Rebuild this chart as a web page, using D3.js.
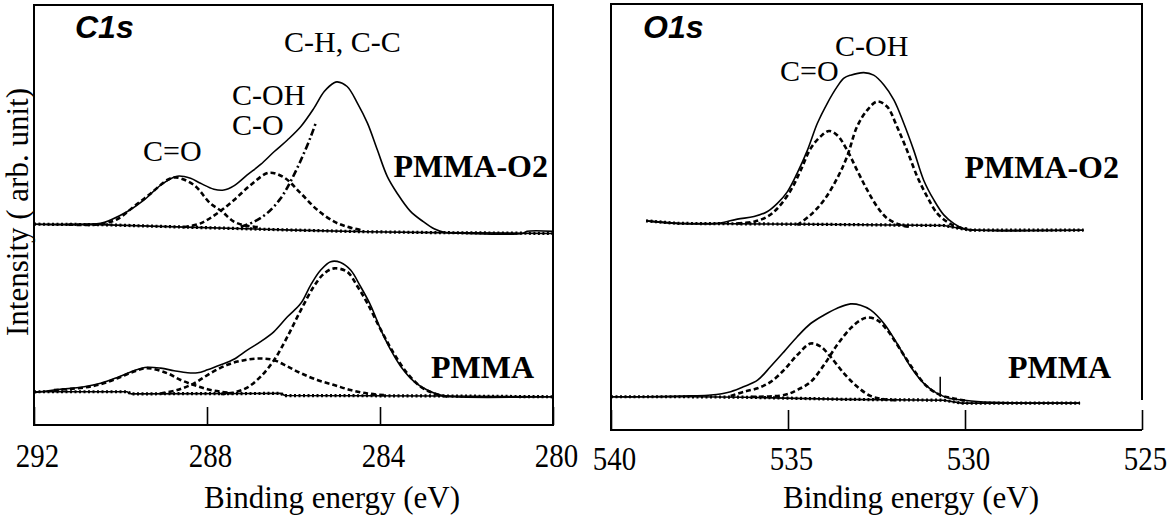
<!DOCTYPE html>
<html>
<head>
<meta charset="utf-8">
<script src="https://cdn.jsdelivr.net/npm/d3@7"></script>
<style>
  body { margin: 0; background: #fff; }
  svg { display: block; }
</style>
</head>
<body>
<svg id="chart" width="1168" height="516"></svg>
<script>
// ---- C1s, PMMA-O2 (offset upward) : [binding energy eV, intensity arb.]
var c1sO2Envelope = [[292.00,47.7],[291.23,47.6],[290.46,47.9],[290.23,48.7],[289.84,50.7],[289.46,53.4],[289.07,57.0],[288.69,59.1],[288.38,58.6],[288.15,57.4],[287.84,56.0],[287.61,55.8],[287.38,56.8],[287.07,59.4],[286.76,61.9],[286.45,64.9],[286.14,67.7],[285.83,70.9],[285.53,75.2],[285.29,79.2],[285.06,81.3],[284.99,81.5],[284.76,80.4],[284.52,76.4],[284.29,71.7],[284.06,65.3],[283.83,59.0],[283.60,55.0],[283.30,50.8],[283.00,48.3],[282.75,46.6],[282.52,45.8],[281.98,45.5],[280.70,45.5],[280.60,46.0],[280.00,46.0]];
var c1sO2CO = [[291.20,47.6],[290.46,47.7],[290.07,48.9],[289.69,51.9],[289.30,55.0],[288.92,58.2],[288.72,58.8],[288.30,57.0],[287.92,52.6],[287.65,50.7],[287.38,48.3],[287.07,47.3],[286.76,47.0]];
var c1sO2COH = [[288.53,47.0],[288.15,47.9],[287.76,50.3],[287.38,53.4],[286.99,57.0],[286.57,59.9],[286.22,58.8],[285.83,55.0],[285.45,51.1],[285.06,48.3],[284.76,47.1],[284.45,46.3]];
var c1sO2CH = [[287.22,47.1],[286.91,48.3],[286.61,50.3],[286.30,53.8],[286.07,57.8],[285.83,62.9],[285.60,68.5],[285.49,71.6]];
var c1sO2Base = [[292.0,47.7],[290.5,47.6],[288.5,47.0],[286.0,46.3],[284.3,45.9],[282.75,45.7],[280.0,45.5]];

// ---- C1s, PMMA
var c1sEnvelope = [[292.00,7.7],[291.54,8.3],[290.84,9.1],[290.46,9.9],[290.07,11.3],[289.69,12.9],[289.38,13.7],[289.07,13.5],[288.76,12.9],[288.45,12.4],[288.22,12.4],[287.99,13.1],[287.68,14.3],[287.38,15.6],[287.07,17.8],[286.76,19.8],[286.45,22.2],[286.14,25.7],[285.83,28.9],[285.60,33.3],[285.37,36.8],[285.14,38.8],[284.91,38.6],[284.68,36.8],[284.45,32.9],[284.22,28.5],[283.98,22.6],[283.75,17.8],[283.52,13.9],[283.21,10.3],[282.91,8.3],[282.60,7.1],[282.29,6.7],[280.00,6.7]];
var c1sCO = [[291.54,8.3],[290.84,8.9],[290.46,9.7],[290.07,11.1],[289.69,12.7],[289.38,13.5],[288.92,12.3],[288.61,10.7],[288.30,9.5],[287.99,8.5],[287.68,7.9],[287.38,7.5]];
var c1sCOH = [[289.07,7.5],[288.69,8.3],[288.30,9.9],[287.92,12.3],[287.53,14.3],[287.14,15.4],[286.76,15.8],[286.45,15.4],[286.14,13.9],[285.83,12.3],[285.45,10.7],[285.06,9.5],[284.68,8.3],[284.29,7.5],[283.91,7.1]];
var c1sCH = [[287.68,7.4],[287.38,7.7],[287.07,8.9],[286.76,11.5],[286.45,15.4],[286.14,21.0],[285.83,27.3],[285.53,32.9],[285.29,36.0],[285.06,37.2],[284.76,36.4],[284.52,32.9],[284.29,28.9],[283.98,22.6],[283.68,17.0],[283.37,12.3],[283.06,9.1],[282.75,7.5],[282.44,6.7]];
var c1sBase = [[292.0,7.9],[289.85,7.9],[289.75,7.4],[286.3,7.5],[286.2,7.0],[282.6,6.9],[280.0,6.7]];

// ---- O1s, PMMA-O2
var o1sO2Envelope = [[539.01,49.1],[538.12,48.5],[536.99,48.5],[536.43,49.5],[535.96,50.1],[535.58,51.3],[535.30,53.2],[535.02,55.9],[534.74,60.3],[534.45,65.7],[534.17,72.0],[533.89,76.7],[533.61,80.6],[533.42,82.6],[533.23,83.3],[532.86,83.9],[532.58,83.3],[532.29,81.0],[532.01,77.5],[531.73,72.0],[531.45,65.7],[531.17,58.7],[530.88,54.0],[530.60,50.5],[530.32,48.5],[530.04,47.3],[529.19,46.8],[527.78,46.8],[526.65,46.9]];
var o1sO2CO = [[536.43,48.5],[535.96,48.9],[535.58,50.1],[535.30,52.0],[534.92,56.3],[534.64,61.0],[534.36,66.1],[534.08,68.9],[533.84,70.2],[533.61,69.2],[533.33,65.7],[533.05,61.0],[532.76,56.3],[532.48,52.4],[532.20,49.7],[531.82,48.1],[531.54,47.7]];
var o1sO2COH = [[534.74,48.1],[534.36,50.5],[533.98,54.0],[533.61,59.1],[533.33,64.2],[533.05,71.2],[532.76,75.1],[532.48,77.1],[532.20,75.9],[531.92,71.2],[531.64,65.7],[531.35,59.5],[531.07,54.8],[530.79,50.9],[530.51,48.9],[530.23,47.7],[529.94,47.3]];
var o1sO2Base = [[539.01,49.1],[538.12,48.5],[534.36,48.3],[530.6,48.0],[529.85,46.9],[526.65,46.9]];

// ---- O1s, PMMA
var o1sEnvelope = [[540.00,7.8],[539.06,7.8],[537.74,8.0],[537.18,8.2],[536.62,9.0],[536.24,10.2],[535.86,11.7],[535.49,14.9],[535.11,18.4],[534.74,21.9],[534.36,25.0],[533.98,27.0],[533.61,28.6],[533.23,29.6],[532.95,29.3],[532.67,28.2],[532.29,25.0],[531.92,20.3],[531.54,14.9],[531.17,11.0],[530.79,8.6],[530.41,7.4],[530.04,7.0],[529.66,6.7],[528.72,6.4],[526.75,6.3]];
var o1sCO = [[536.62,8.0],[536.24,9.0],[535.86,9.8],[535.49,11.3],[535.11,14.1],[534.74,17.6],[534.36,20.3],[534.08,19.6],[533.80,17.2],[533.42,13.3],[533.05,10.2],[532.67,8.0],[532.29,7.2],[531.92,7.0]];
var o1sCOH = [[536.05,7.8],[535.11,8.2],[534.74,9.4],[534.36,11.3],[533.98,15.3],[533.61,20.0],[533.23,23.9],[532.95,25.8],[532.76,26.4],[532.48,25.8],[532.20,23.5],[531.82,18.8],[531.45,14.1],[531.07,10.2],[530.70,8.2],[530.32,7.4],[529.94,6.8]];
var o1sBase = [[540.0,7.8],[537.74,7.8],[536.24,7.7],[533.42,7.2],[530.6,7.0],[530.1,6.3],[526.75,6.3]];
var o1sStray = [[530.7,7.8],[530.7,12.5]];   // stray mark in the original scan

// ---- axes
var c1sDomain = [292, 280];
var c1sTicks = [292, 288, 284, 280];
var o1sDomain = [540, 525];
var o1sTicks = [540, 535, 530, 525];

var SERIF = '"Liberation Serif","Times New Roman",serif';
var SANS = '"Liberation Sans",Arial,sans-serif';

var svg = d3.select('#chart');

function drawPanel(cfg) {
  var x = d3.scaleLinear().domain(cfg.domain).range([cfg.left, cfg.right]);
  var y = d3.scaleLinear().domain([0, 100]).range([cfg.bottom, cfg.top]);
  var g = svg.append('g');

  var smooth = d3.line()
      .x(function(d) { return x(d[0]); })
      .y(function(d) { return y(d[1]); })
      .curve(d3.curveCatmullRom.alpha(0.5));
  var straight = d3.line()
      .x(function(d) { return x(d[0]); })
      .y(function(d) { return y(d[1]); });

  cfg.spectra.forEach(function(s) {
    g.append('path').attr('d', straight(s.base))
      .attr('fill', 'none').attr('stroke', '#000').attr('stroke-width', 1.6);
    g.append('path').attr('d', straight(s.base))
      .attr('fill', 'none').attr('stroke', '#000').attr('stroke-width', 3.2)
      .attr('stroke-dasharray', '2,2.5');
    s.parts.forEach(function(p) {
      g.append('path').attr('d', smooth(p.data))
        .attr('fill', 'none').attr('stroke', '#000').attr('stroke-width', 2.6)
        .attr('stroke-dasharray', p.dash || '5,3');
    });
    g.append('path').attr('d', smooth(s.envelope))
      .attr('fill', 'none').attr('stroke', '#000').attr('stroke-width', 1.6);
  });

  (cfg.extra || []).forEach(function(e) {
    g.append('path').attr('d', straight(e))
      .attr('fill', 'none').attr('stroke', '#000').attr('stroke-width', 1.5);
  });

  // frame
  var L = cfg.left, R = cfg.right, T = cfg.frameTop, B = cfg.bottom;
  var framePath = cfg.openRight
    ? 'M' + R + ',' + cfg.openRight + 'V' + T + 'H' + L + 'V' + B + 'H' + R
    : 'M' + L + ',' + T + 'H' + R + 'V' + B + 'H' + L + 'Z';
  g.append('path').attr('d', framePath)
    .attr('fill', 'none').attr('stroke', '#000').attr('stroke-width', 2);

  // x axis: inward ticks, serif labels
  var axis = d3.axisBottom(x)
      .tickValues(cfg.ticks)
      .tickSizeInner(-cfg.tickLen)
      .tickSizeOuter(0)
      .tickFormat(d3.format('d'));
  var ax = g.append('g').attr('transform', 'translate(0,' + B + ')').call(axis);
  ax.select('.domain').remove();
  ax.selectAll('line').attr('stroke', '#000').attr('stroke-width', 1.6);
  ax.selectAll('text')
    .attr('font-family', SERIF).attr('font-size', 34).attr('fill', '#000')
    .attr('x', 3.5).attr('y', cfg.tickLabelY).attr('dy', 0)
    .attr('transform', 'scale(0.85,1)');

  g.append('text')
    .attr('x', cfg.titleX).attr('y', 508)
    .attr('text-anchor', 'middle')
    .attr('font-family', SERIF).attr('font-size', 31)
    .text('Binding energy (eV)');

  cfg.labels.forEach(function(l) {
    g.append('text')
      .attr('x', l.x).attr('y', l.y)
      .attr('text-anchor', l.anchor || 'start')
      .attr('font-family', l.sans ? SANS : SERIF)
      .attr('font-size', l.size || 30)
      .attr('font-weight', l.bold ? 'bold' : 'normal')
      .attr('font-style', l.italic ? 'italic' : 'normal')
      .text(l.text);
  });
}

drawPanel({
  domain: c1sDomain, ticks: c1sTicks,
  left: 34, right: 553, top: 4, frameTop: 5, bottom: 425,
  tickLen: 18, tickLabelY: 42, titleX: 332,
  spectra: [
    { envelope: c1sO2Envelope, base: c1sO2Base,
      parts: [{ data: c1sO2CO }, { data: c1sO2COH }, { data: c1sO2CH, dash: '7,3,2,3' }] },
    { envelope: c1sEnvelope, base: c1sBase,
      parts: [{ data: c1sCO }, { data: c1sCOH }, { data: c1sCH }] }
  ],
  labels: [
    { text: 'C1s', x: 75, y: 38, sans: true, bold: true, italic: true, size: 32 },
    { text: 'C-H, C-C', x: 284, y: 52 },
    { text: 'C-OH', x: 232, y: 105 },
    { text: 'C-O', x: 232, y: 135 },
    { text: 'C=O', x: 143, y: 161 },
    { text: 'PMMA-O2', x: 548, y: 177, anchor: 'end', bold: true, size: 32 },
    { text: 'PMMA', x: 534, y: 378, anchor: 'end', bold: true, size: 32 }
  ]
});

drawPanel({
  domain: o1sDomain, ticks: o1sTicks,
  left: 611, right: 1142, top: 4, frameTop: 4, bottom: 430, openRight: 400,
  tickLen: 20, tickLabelY: 40, titleX: 911,
  spectra: [
    { envelope: o1sO2Envelope, base: o1sO2Base,
      parts: [{ data: o1sO2CO }, { data: o1sO2COH }] },
    { envelope: o1sEnvelope, base: o1sBase,
      parts: [{ data: o1sCO }, { data: o1sCOH }] }
  ],
  extra: [o1sStray],
  labels: [
    { text: 'O1s', x: 643, y: 38, sans: true, bold: true, italic: true, size: 32 },
    { text: 'C-OH', x: 835, y: 56 },
    { text: 'C=O', x: 780, y: 81 },
    { text: 'PMMA-O2', x: 1119, y: 178, anchor: 'end', bold: true, size: 32 },
    { text: 'PMMA', x: 1111, y: 378, anchor: 'end', bold: true, size: 32 }
  ]
});

// y axis title
svg.append('text')
  .attr('transform', 'translate(28,212) rotate(-90)')
  .attr('text-anchor', 'middle')
  .attr('font-family', SERIF).attr('font-size', 31)
  .text('Intensity ( arb. unit)');
</script>
</body>
</html>
